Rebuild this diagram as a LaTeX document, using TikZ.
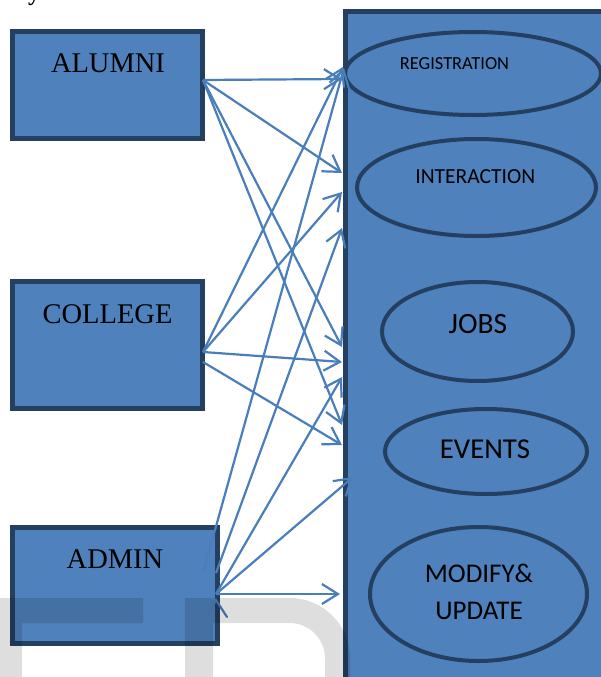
\documentclass[tikz,border=0pt]{standalone}
\usepackage{fontspec}
\setmainfont{Liberation Serif}
\newfontfamily\calfont{Carlito}
\usetikzlibrary{arrows.meta,shapes.geometric}
\definecolor{boxblue}{HTML}{4F81BD}
\definecolor{boxline}{HTML}{243F60}
\definecolor{arrowblue}{HTML}{4A7EBB}
\begin{document}
\begin{tikzpicture}[x=1pt,y=-1pt,
  actor/.style={rectangle, draw=boxline, fill=boxblue, line width=5pt, inner sep=0pt},
  usecase/.style={ellipse, draw=boxline, fill=boxblue, line width=4pt, inner sep=0pt},
  serlbl/.style={font=\fontsize{28.5}{34}\selectfont, inner sep=0pt, anchor=base},
  callbl/.style={font=\calfont\fontsize{#1}{37.3}\selectfont, inner sep=0pt, anchor=base},
  conn/.style={draw=arrowblue, line width=2.2pt, -{Straight Barb[length=16pt,width=20pt]}},
  arm/.style={draw=arrowblue, line width=2.2pt, line cap=round},
  wmark/.style={fill=black, fill opacity=0.13}]
\useasboundingbox (0,0) rectangle (600,677);
\fill[white] (0,0) rectangle (600,677);

% cut-off title letter
\node[font=\bfseries\fontsize{24}{28}\selectfont, inner sep=0pt, anchor=base west] (ttl) at (28,0.5) {y};

% actors
\node[actor, minimum width=190pt, minimum height=107pt] (alumni) at (107.5,85) {};
\node[actor, minimum width=190pt, minimum height=127pt] (college) at (107.5,345) {};
\node[actor, minimum width=205pt, minimum height=116pt] (admin) at (115,585.5) {};
\node[serlbl] (alumnitxt) at (108,72) {ALUMNI};
\node[serlbl] (collegetxt) at (107.5,323) {COLLEGE};
\node[serlbl] (admintxt) at (115,568) {ADMIN};

% system boundary
\draw[draw=boxline, fill=boxblue, line width=5pt] (345.5,12) rectangle (660,720);
\coordinate (sys) at (345.5,12);

% use cases
\node[usecase, minimum width=256pt, minimum height=83pt] (reg) at (473,73.5) {};
\node[usecase, minimum width=239pt, minimum height=97pt] (int) at (476.5,187.5) {};
\node[usecase, minimum width=191pt, minimum height=99pt] (jobs) at (477.5,331.5) {};
\node[usecase, minimum width=202pt, minimum height=85pt] (events) at (486,451.5) {};
\node[usecase, minimum width=217pt, minimum height=134pt] (modify) at (478.5,594) {};
\node[callbl=18.4] (regtxt) at (454.5,70) {REGISTRATION};
\node[callbl=21.5] (inttxt) at (475.3,183) {INTERACTION};
\node[callbl=29.5] (jobstxt) at (478,333) {JOBS};
\node[callbl=28.8] (eventstxt) at (485,458) {EVENTS};
\node[font=\calfont\fontsize{27}{37.3}\selectfont, inner sep=0pt, align=center] (modtxt) at (479,591.7) {MODIFY\&\\UPDATE};

% connector end points
\coordinate (a0) at (203,80);
\coordinate (c0) at (203,352);
\coordinate (c1) at (203,362);
\coordinate (d0) at (203,573);
\coordinate (d1) at (216,573);
\coordinate (d2) at (216,594);
\coordinate (dtip) at (216,600);
\coordinate (dl) at (207,617);
\coordinate (dr) at (227,617);
\coordinate (e79) at (342,79);
\coordinate (e67) at (343,67);
\coordinate (e68) at (344,68);
\coordinate (e173) at (342,173);
\coordinate (e192) at (342,192);
\coordinate (e228) at (342,228);
\coordinate (e347) at (342,347);
\coordinate (e362) at (342,362);
\coordinate (e377) at (342,377);
\coordinate (e425) at (342,425);
\coordinate (e445) at (342,445);
\coordinate (e477) at (353,477);
\coordinate (e594) at (340,594);

% connectors
\draw[conn] (a0) -- (e79);
\draw[conn] (a0) -- (e173);
\draw[conn] (a0) -- (e347);
\draw[conn] (a0) -- (e425);
\draw[conn] (c0) -- (e67);
\draw[conn] (c0) -- (e192);
\draw[conn] (c0) -- (e362);
\draw[conn] (c1) -- (e445);
\draw[conn] (d0) -- (e68);
\draw[conn] (d1) -- (e228);
\draw[conn] (d2) -- (e377);
\draw[conn] (d2) -- (e477);
\draw[conn] (d2) -- (e594);
\draw[arm] (dl) -- (dtip) -- (dr);

% watermark
\path[wmark] (-30,598) -- (143,598) -- (143,623) -- (22,623) -- (22,700) -- (-30,700) -- cycle;
\path[wmark] (185,700) -- (185,598) -- (290,598) .. controls (323,598) and (350,625) .. (350,658)
  -- (350,700) -- (325,700) -- (325,658) .. controls (325,639) and (309,623) .. (290,623)
  -- (213,623) -- (213,700) -- cycle;
\end{tikzpicture}
\end{document}
